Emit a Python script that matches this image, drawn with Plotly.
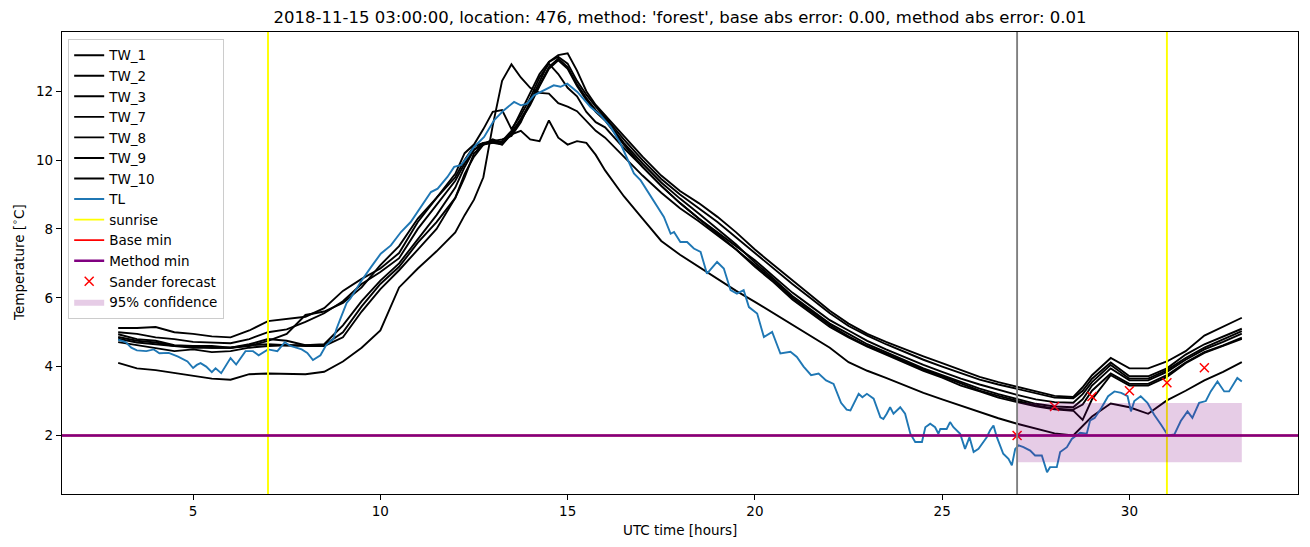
import plotly.graph_objects as go

# ---------------- data ----------------
tw_hours = [3.0, 3.5, 4.0, 4.5, 5.0, 5.5, 6.0, 6.5, 7.0, 7.5, 8.0, 8.5, 9.0, 9.5, 10.0, 10.5, 11.0, 11.5,
            12.0, 12.25, 12.5, 12.75, 13.0, 13.25, 13.5, 13.75, 14.0, 14.25, 14.5, 14.75, 15.0, 15.25, 15.5, 15.75,
            16.0, 16.5, 17.0, 17.5, 18.0, 18.5, 19.0, 19.5, 20.0, 20.5, 21.0, 21.5, 22.0, 22.5, 23.0, 23.5,
            24.0, 24.5, 25.0, 25.5, 26.0, 26.5, 27.0, 27.5, 28.0, 28.5, 28.75, 29.0, 29.5, 30.0, 30.5, 31.0,
            31.5, 32.0, 32.5, 33.0]

tw_1 = [5.12, 5.12, 5.15, 5.0, 4.95, 4.88, 4.85, 5.05, 5.32, 5.38, 5.45, 5.7, 6.2, 6.55, 6.85, 7.3, 8.2, 8.9,
        9.5, 10.0, 10.4, 10.5, 10.55, 10.6, 10.7, 11.1, 11.7, 12.3, 12.85, 13.05, 13.1, 12.6, 12.0, 11.6,
        11.3, 10.7, 10.1, 9.55, 9.1, 8.75, 8.35, 7.9, 7.4, 6.95, 6.5, 6.05, 5.62, 5.25, 4.95, 4.72,
        4.5, 4.3, 4.1, 3.9, 3.7, 3.55, 3.42, 3.28, 3.15, 3.12, 3.4, 3.75, 4.25, 3.95, 3.95, 4.15,
        4.45, 4.9, 5.15, 5.42]
tw_2 = [5.0, 4.95, 4.85, 4.8, 4.72, 4.7, 4.68, 4.8, 5.0, 5.08, 5.3, 5.55, 5.9, 6.4, 6.75, 7.15, 8.0, 8.7,
        9.4, 9.9, 10.3, 10.45, 10.5, 10.55, 10.85, 11.4, 11.95, 12.5, 12.85, 13.0, 12.8, 12.3, 11.9, 11.55,
        11.25, 10.6, 10.0, 9.45, 9.0, 8.6, 8.2, 7.75, 7.3, 6.85, 6.4, 5.98, 5.55, 5.18, 4.9, 4.65,
        4.42, 4.2, 4.0, 3.8, 3.62, 3.48, 3.35, 3.22, 3.1, 3.08, 3.3, 3.65, 4.12, 3.72, 3.72, 3.95,
        4.35, 4.65, 4.88, 5.1]
tw_3 = [4.94, 4.8, 4.75, 4.62, 4.6, 4.55, 4.55, 4.6, 4.75, 4.95, 5.5, 5.6, 5.85, 6.3, 6.95, 7.5, 8.3, 8.9,
        9.6, 10.2, 10.45, 10.9, 11.4, 11.45, 10.9, 11.3, 11.8, 12.4, 12.8, 12.5, 12.1, 11.85, 11.4, 11.1,
        10.95, 10.35, 9.8, 9.25, 8.75, 8.3, 7.9, 7.5, 7.09, 6.62, 6.15, 5.75, 5.35, 5.05, 4.75, 4.5,
        4.27, 4.05, 3.85, 3.65, 3.48, 3.32, 3.18, 3.05, 2.97, 2.95, 3.2, 3.55, 4.05, 3.65, 3.65, 3.9,
        4.25, 4.55, 4.78, 5.03]
tw_7 = [4.86, 4.75, 4.7, 4.6, 4.55, 4.55, 4.55, 4.62, 4.65, 4.62, 4.62, 4.65, 5.2, 5.9, 6.5, 7.0, 7.7, 8.4,
        9.2, 9.8, 10.3, 10.5, 10.5, 10.45, 10.8, 11.2, 11.65, 12.2, 12.7, 12.95, 12.7, 12.2, 11.8, 11.45,
        11.2, 10.5, 9.9, 9.35, 8.88, 8.45, 8.0, 7.55, 7.02, 6.55, 6.05, 5.65, 5.25, 4.95, 4.65, 4.42,
        4.18, 3.95, 3.75, 3.55, 3.36, 3.2, 3.05, 2.92, 2.84, 2.82, 3.05, 3.45, 3.95, 3.6, 3.6, 3.85,
        4.2, 4.5, 4.72, 4.96]
tw_8 = [4.81, 4.7, 4.65, 4.6, 4.6, 4.6, 4.55, 4.65, 4.8, 4.75, 4.62, 4.62, 5.0, 5.75, 6.4, 6.9, 7.6, 8.2,
        8.9, 9.5, 10.2, 10.45, 10.55, 10.45, 10.75, 11.15, 11.6, 12.15, 12.65, 12.9, 12.65, 12.15, 11.75, 11.4,
        11.15, 10.45, 9.8, 9.25, 8.75, 8.3, 7.85, 7.4, 6.9, 6.45, 5.95, 5.55, 5.15, 4.85, 4.58, 4.35,
        4.12, 3.88, 3.68, 3.45, 3.28, 3.1, 2.97, 2.85, 2.76, 2.72, 2.45, 3.05, 3.75, 3.45, 3.45, 3.7,
        4.1, 4.4, 4.6, 4.81]
tw_9 = [4.11, 3.95, 3.9, 3.82, 3.75, 3.65, 3.62, 3.78, 3.8, 3.8, 3.78, 3.85, 4.15, 4.55, 5.05, 6.3, 6.85, 7.35,
        7.9, 8.4, 8.85, 9.5, 11.0, 12.3, 12.78, 12.4, 12.1, 11.95, 11.93, 11.65, 11.55, 11.42, 11.15, 10.85,
        10.65, 10.1, 9.55, 9.05, 8.6, 8.22, 7.8, 7.4, 6.95, 6.5, 6.0, 5.6, 5.2, 4.88, 4.6, 4.38,
        4.15, 3.92, 3.72, 3.5, 3.3, 3.15, 3.0, 2.87, 2.78, 2.75, 2.9, 3.3, 3.8, 3.5, 3.5, 3.75,
        4.12, 4.42, 4.62, 4.84]
tw_10 = [4.71, 4.62, 4.55, 4.45, 4.5, 4.42, 4.45, 4.55, 4.6, 4.62, 4.6, 4.6, 4.85, 5.6, 6.25, 6.8, 7.4, 8.0,
         8.9, 9.6, 10.1, 10.45, 10.6, 10.5, 10.75, 10.85, 10.6, 10.55, 11.15, 10.65, 10.45, 10.55, 10.5, 10.15,
         9.7, 8.95, 8.3, 7.65, 7.25, 6.9, 6.55, 6.2, 5.88, 5.55, 5.22, 4.9, 4.55, 4.13, 3.88, 3.67,
         3.45, 3.24, 3.05, 2.86, 2.67, 2.5, 2.34, 2.2, 2.06, 2.0, 2.28, 2.55, 2.93, 2.82, 2.63, 3.02,
         3.3, 3.6, 3.85, 4.13]

tw_names = ["TW_1", "TW_2", "TW_3", "TW_7", "TW_8", "TW_9", "TW_10"]
tw_series = [tw_1, tw_2, tw_3, tw_7, tw_8, tw_9, tw_10]

tl_hours = [3.0, 3.2, 3.35, 3.5, 3.75, 3.95, 4.1, 4.35, 4.6, 4.85, 5.0, 5.1, 5.2, 5.35, 5.5, 5.6, 5.75,
            6.0, 6.15, 6.4, 6.6, 6.75, 7.0, 7.25, 7.45, 7.6, 7.75, 7.9, 8.05, 8.2, 8.4, 8.55, 8.75,
            8.83, 8.95, 9.1, 9.2, 9.36, 9.5, 9.75, 10.01, 10.28, 10.55, 10.81, 11.08, 11.35, 11.53,
            11.79, 11.97, 12.15, 12.32, 12.5, 12.77, 13.04, 13.3, 13.57, 13.75, 13.92, 14.1, 14.37,
            14.63, 14.81, 14.99, 15.26, 15.61, 15.88, 16.15, 16.41, 16.77, 16.95, 17.12, 17.3, 17.57,
            17.75, 17.84, 18.01, 18.19, 18.37, 18.55, 18.72, 18.99, 19.17, 19.35, 19.52, 19.7, 19.84,
            20.06, 20.24, 20.46, 20.68, 20.95, 21.12, 21.3, 21.5, 21.7, 21.9, 22.1, 22.3, 22.45,
            22.55, 22.77, 22.87, 22.99, 23.17, 23.35, 23.43, 23.52, 23.61, 23.7, 23.88, 24.01, 24.15,
            24.28, 24.46, 24.55, 24.68, 24.81, 24.9, 24.95, 25.12, 25.21, 25.3, 25.48, 25.61, 25.73,
            25.84, 25.97, 26.1, 26.19, 26.28, 26.37, 26.46, 26.63, 26.77, 26.86, 26.95, 27.04, 27.17,
            27.35, 27.48, 27.66, 27.8, 27.88, 28.06, 28.15, 28.33, 28.46, 28.68, 28.86, 28.95, 29.07,
            29.25, 29.43, 29.6, 29.78, 29.95, 30.04, 30.13, 30.3, 30.48, 30.66, 30.84, 31.03, 31.2,
            31.37, 31.55, 31.68, 31.86, 32.04, 32.17, 32.35, 32.53, 32.66, 32.88, 33.0]
tl_temp = [4.78, 4.71, 4.55, 4.47, 4.45, 4.5, 4.39, 4.4, 4.29, 4.15, 3.96, 4.05, 4.1, 4.0, 3.84, 3.95, 3.81,
           4.25, 4.06, 4.45, 4.45, 4.33, 4.5, 4.45, 4.71, 4.6, 4.55, 4.5, 4.4, 4.19, 4.33, 4.62, 4.81,
           5.1, 5.44, 5.85, 5.98, 6.27, 6.5, 6.89, 7.28, 7.52, 7.91, 8.2, 8.64, 9.07, 9.17,
           9.51, 9.8, 9.85, 10.09, 10.38, 10.67, 11.16, 11.45, 11.69, 11.59, 11.64, 11.88, 12.03,
           12.17, 12.13, 12.22, 11.98, 11.54, 11.3, 10.96, 10.48, 9.61, 9.41, 9.12, 8.83, 8.35,
           7.86, 7.91, 7.62, 7.62, 7.43, 7.33, 6.7, 7.04, 6.85, 6.22, 6.12, 6.22, 5.73,
           5.54, 4.86, 5.01, 4.38, 4.43, 4.28, 4.0, 3.75, 3.8, 3.6, 3.5, 2.95, 2.75,
           2.73, 3.21, 3.11, 3.21, 3.07, 2.53, 2.48, 2.63, 2.82, 2.63, 2.82, 2.63, 2.05,
           1.81, 1.81, 2.24, 2.34, 2.24, 2.05, 2.19, 2.19, 2.39, 2.24, 2.05, 1.61, 1.95,
           1.52, 1.61, 1.81, 1.95, 2.15, 2.29, 1.95, 1.47, 1.32, 1.13, 1.61, 1.71, 1.66,
           1.56, 1.42, 1.42, 0.93, 1.08, 1.08, 1.52, 1.66, 1.9, 2.08, 2.05, 2.44, 2.51,
           2.8, 3.14, 3.28, 3.24, 3.14, 2.7, 3.0, 3.14, 2.95, 2.6, 2.32, 2.0, 2.03,
           2.42, 2.7, 2.51, 2.95, 3.0, 3.28, 3.57, 3.28, 3.28, 3.67, 3.57]

sunrise_hours = [7.0, 31.0]
forecast_time = [27.0]
base_min = [2.0]
method_min = [2.0]
sander_hours = [27, 28, 29, 30, 31, 32]
sander_temp = [2.0, 2.84, 3.13, 3.3, 3.53, 3.97]
conf_hours = [27.0, 33.0]
conf_low = [1.22]
conf_high = [2.94]

title_text = ("2018-11-15 03:00:00, location: 476, method: 'forest', "
              "base abs error: 0.00, method abs error: 0.01")

# ---------------- figure ----------------
X_RANGE = [1.5, 34.5]
Y_RANGE = [0.3, 13.72]
FONT = "DejaVu Sans"
LW = 1.9

fig = go.Figure()

for i, (name, vals) in enumerate(zip(tw_names, tw_series)):
    fig.add_trace(go.Scatter(x=tw_hours, y=vals, mode="lines", name=name,
                             line=dict(color="black", width=LW)))

fig.add_trace(go.Scatter(x=tl_hours, y=tl_temp, mode="lines", name="TL",
                         line=dict(color="#1f77b4", width=LW)))

sx, sy = [], []
for h in sunrise_hours:
    sx += [h, h, None]
    sy += [Y_RANGE[0] - 5, Y_RANGE[1] + 5, None]
fig.add_trace(go.Scatter(x=sx, y=sy, mode="lines", name="sunrise",
                         line=dict(color="#ffff00", width=LW)))

fig.add_trace(go.Scatter(x=[X_RANGE[0] - 5, X_RANGE[1] + 5], y=[base_min[0], base_min[0]],
                         mode="lines", name="Base min",
                         line=dict(color="red", width=1.8)))
fig.add_trace(go.Scatter(x=[X_RANGE[0] - 5, X_RANGE[1] + 5], y=[method_min[0], method_min[0]],
                         mode="lines", name="Method min",
                         line=dict(color="#800080", width=2.4)))

fig.add_trace(go.Scatter(x=sander_hours, y=sander_temp, mode="markers", name="Sander forecast",
                         marker=dict(symbol="x-thin", size=9, color="red",
                                     line=dict(color="red", width=1.5))))

fig.add_trace(go.Scatter(x=[conf_hours[0], conf_hours[1], conf_hours[1], conf_hours[0], conf_hours[0]],
                         y=[conf_low[0], conf_low[0], conf_high[0], conf_high[0], conf_low[0]],
                         mode="lines", fill="toself", fillcolor="rgba(128,0,128,0.2)",
                         line=dict(width=0, color="rgba(128,0,128,0)"),
                         name="95% confidence"))

fig.add_trace(go.Scatter(x=[forecast_time[0], forecast_time[0]], y=[Y_RANGE[0] - 5, Y_RANGE[1] + 5],
                         mode="lines", line=dict(color="gray", width=LW), showlegend=False,
                         hoverinfo="skip"))

axis_common = dict(showgrid=False, zeroline=False, showline=True, mirror=True,
                   linecolor="black", linewidth=1.2, ticks="outside", ticklen=5,
                   tickcolor="black", automargin=False,
                   tickfont=dict(family=FONT, size=13.5, color="black"))

fig.update_layout(
    width=1310, height=547,
    margin=dict(l=62, r=12, t=32, b=53, autoexpand=False),
    paper_bgcolor="white", plot_bgcolor="white",
    font=dict(family=FONT, size=13.5, color="black"),
    title=dict(text=title_text, x=680 / 1310, xanchor="center", y=1 - 17 / 547, yanchor="middle",
               yref="container", font=dict(family=FONT, size=16.5, color="black")),
    xaxis=dict(range=X_RANGE, tickvals=[5, 10, 15, 20, 25, 30], **axis_common),
    yaxis=dict(range=Y_RANGE, tickvals=[2, 4, 6, 8, 10, 12], **axis_common),
    legend=dict(x=0.005, y=0.985, xanchor="left", yanchor="top",
                bgcolor="rgba(255,255,255,0.8)", bordercolor="#cccccc", borderwidth=1,
                font=dict(family=FONT, size=13.5, color="black"),
                traceorder="normal", itemwidth=30),
    showlegend=True,
    annotations=[
        dict(text="UTC time [hours]", xref="paper", yref="paper", x=0.5, y=(494 - 530) / 462,
             xanchor="center", yanchor="middle", showarrow=False,
             font=dict(family=FONT, size=13.5, color="black")),
        dict(text="Temperature [<sup>∘</sup>C]", xref="paper", yref="paper",
             x=(18 - 62) / 1236, y=0.5, xanchor="center", yanchor="middle", textangle=-90,
             showarrow=False, font=dict(family=FONT, size=13.5, color="black")),
    ],
)

fig.write_html("out.html",
               config={"displayModeBar": False},
               post_script="document.body.style.margin='0';document.body.style.overflow='hidden';")
